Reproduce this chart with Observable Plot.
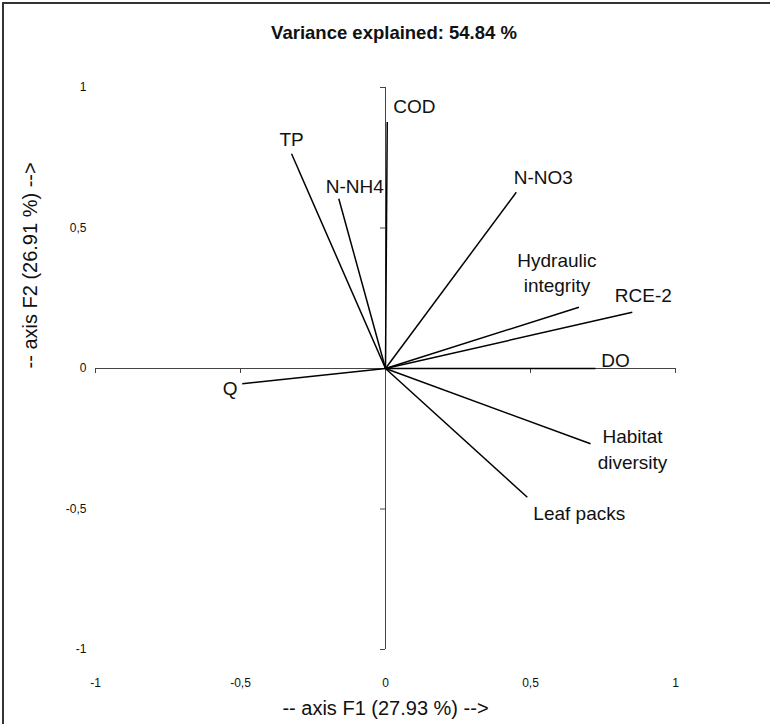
<!DOCTYPE html>
<html>
<head>
<meta charset="utf-8">
<script src="https://cdn.jsdelivr.net/npm/d3@7"></script>
<script src="https://cdn.jsdelivr.net/npm/@observablehq/plot@0.6"></script>
<style>
  body { margin: 0; background: #fff; font-family: "Liberation Sans", Arial, sans-serif; }
  #wrap { position: relative; width: 770px; height: 724px; overflow: hidden; background: #fff; }
  #frame { position: absolute; left: 2px; top: 2px; right: -10px; bottom: -10px; border-left: 2px solid #333; border-top: 2px solid #333; pointer-events: none; }
  #title { position: absolute; left: 9px; top: 22px; width: 770px; text-align: center; font-weight: bold; font-size: 18.5px; color: #111; }
  #chart { position: absolute; left: 0; top: 60px; }
</style>
</head>
<body>
<div id="wrap">
  <div id="title"></div>
  <div id="chart"></div>
  <div id="frame"></div>
</div>
<script>
// ---- data ----
const titleText = "Variance explained: 54.84 %";
const xTitle = "-- axis F1 (27.93 %) -->";
const yTitle = "-- axis F2 (26.91 %) -->";
const variables = ["COD", "TP", "N-NH4", "N-NO3", "Hydraulic\nintegrity", "RCE-2", "DO", "Habitat\ndiversity", "Leaf packs", "Q"];
const f1 = [0.006, -0.324, -0.161, 0.451, 0.667, 0.851, 0.724, 0.707, 0.489, -0.494];
const f2 = [0.877, 0.764, 0.604, 0.627, 0.218, 0.200, 0.000, -0.268, -0.458, -0.054];
const tickValues = [-1, -0.5, 0, 0.5, 1];
const tickMarks = [-1, -0.5, 0.5, 1];
// label placement (pixel offsets from vector tip)
const labelDx = [6, 0, 16, 27, -22, 11, 20, 42, 52, -12];
const labelDy = [-17, -16, -14, -17, -36, -19, -10, 4, 15, 3];
const labelAnchor = ["start", "middle", "middle", "middle", "middle", "middle", "middle", "middle", "middle", "middle"];

document.getElementById("title").textContent = titleText;

const W = 770, H = 664;
const mL = 95, mR = 95, mT = 27, mB = 75;
const pxX = (W - mL - mR) / 2;      // pixels per unit on x
const pxY = (H - mT - mB) / 2;      // pixels per unit on y
const tickLenX = 5 / pxY, tickLenY = 5 / pxX;
const fmt = d => String(d).replace(".", ",");
const idx = variables.map((_, i) => i);

const labelMarks = idx.map(i => Plot.text([i], {
  x: j => f1[j], y: j => f2[j], text: j => variables[j],
  dx: labelDx[i], dy: labelDy[i], textAnchor: labelAnchor[i],
  fontSize: 19, lineHeight: 1.35, fill: "#111"
}));

const chart = Plot.plot({
  width: W, height: H,
  marginLeft: mL, marginRight: mR, marginTop: mT, marginBottom: mB,
  style: { fontFamily: "Liberation Sans, Arial, sans-serif", background: "transparent", overflow: "visible" },
  x: { domain: [-1, 1] },
  y: { domain: [-1, 1] },
  marks: [
    Plot.axisX({ ticks: tickValues, tickSize: 0, tickPadding: 29, tickFormat: fmt, label: null, fontSize: 12, fill: "#111" }),
    Plot.axisY({ ticks: tickValues, tickSize: 0, tickPadding: 9, tickFormat: fmt, label: null, fontSize: 12, fill: "#111" }),
    Plot.ruleY([0], { x1: -1, x2: 1, stroke: "#444", strokeWidth: 1 }),
    Plot.ruleX([0], { y1: -1, y2: 1, stroke: "#444", strokeWidth: 1 }),
    Plot.ruleX(tickMarks, { x: d => d, y1: 0, y2: -tickLenX, stroke: "#444", strokeWidth: 1 }),
    Plot.ruleY(tickMarks, { y: d => d, x1: 0, x2: -tickLenY, stroke: "#444", strokeWidth: 1 }),
    Plot.link(idx, { x1: 0, y1: 0, x2: i => f1[i], y2: i => f2[i], stroke: "#000", strokeWidth: 1.5 }),
    ...labelMarks,
    Plot.text([xTitle], { frameAnchor: "bottom", dy: 65, fontSize: 20, fill: "#111" }),
    Plot.text([yTitle], { frameAnchor: "left", dx: -65, rotate: -90, fontSize: 20, fill: "#111" })
  ]
});
document.getElementById("chart").appendChild(chart);
</script>
</body>
</html>
